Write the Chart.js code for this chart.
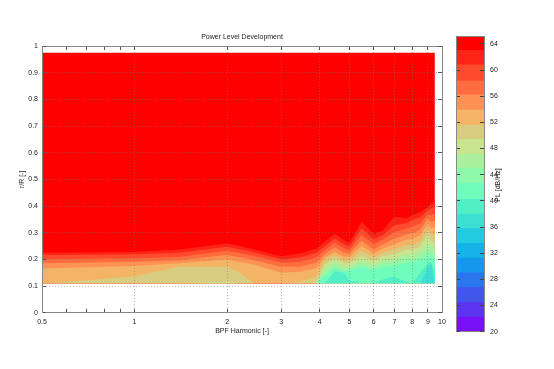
<!DOCTYPE html>
<html>
<head>
<meta charset="utf-8">
<script src="https://cdn.jsdelivr.net/npm/chart.js@4.4.0/dist/chart.umd.min.js"></script>
<style>
  html, body { margin: 0; padding: 0; background: #fff; }
  #wrap { position: relative; width: 554px; height: 369px; }
  canvas { position: absolute; top: 0; }
  #main { left: 0; }
  #bar { left: 440px; }
</style>
</head>
<body>
<div id="wrap">
  <canvas id="main" width="554" height="369"></canvas>
  <canvas id="bar" width="114" height="369"></canvas>
</div>
<script>
// BPF harmonic positions where the contour edges were read
const harmonics = [0.5, 0.7, 1, 1.4, 2, 2.2, 2.45, 3, 3.45, 3.9, 4.15, 4.48, 4.8, 5, 5.47, 6, 6.44, 7, 7.67, 8, 8.5, 9, 9.2, 9.48];

// upper edge (r/R) of each colour band, band 20 = hottest
const top20 = [0.975, 0.975, 0.975, 0.975, 0.975, 0.975, 0.975, 0.975, 0.975, 0.975, 0.975, 0.975, 0.975, 0.975, 0.975, 0.975, 0.975, 0.975, 0.975, 0.975, 0.975, 0.975, 0.975, 0.975];
const top19 = [0.225, 0.226, 0.228, 0.237, 0.260, 0.250, 0.237, 0.212, 0.222, 0.241, 0.266, 0.297, 0.272, 0.262, 0.341, 0.295, 0.310, 0.360, 0.353, 0.366, 0.378, 0.397, 0.410, 0.422];
const top18 = [0.216, 0.217, 0.219, 0.225, 0.247, 0.238, 0.226, 0.200, 0.207, 0.225, 0.250, 0.278, 0.257, 0.248, 0.316, 0.275, 0.292, 0.328, 0.335, 0.347, 0.358, 0.385, 0.390, 0.397];
const top17 = [0.200, 0.202, 0.204, 0.210, 0.232, 0.224, 0.213, 0.188, 0.191, 0.207, 0.235, 0.262, 0.241, 0.235, 0.291, 0.257, 0.275, 0.303, 0.315, 0.322, 0.335, 0.370, 0.365, 0.372];
const top16 = [0.185, 0.188, 0.191, 0.197, 0.216, 0.208, 0.197, 0.172, 0.172, 0.187, 0.220, 0.245, 0.225, 0.222, 0.270, 0.237, 0.258, 0.278, 0.294, 0.297, 0.311, 0.355, 0.340, 0.347];
const top15 = [0.166, 0.170, 0.175, 0.185, 0.200, 0.190, 0.180, 0.150, 0.154, 0.166, 0.207, 0.228, 0.210, 0.210, 0.250, 0.222, 0.242, 0.257, 0.274, 0.275, 0.289, 0.335, 0.314, 0.322];
const top14 = [0.110, 0.122, 0.137, 0.172, 0.172, 0.150, 0.110, 0.110, 0.116, 0.135, 0.195, 0.216, 0.197, 0.198, 0.231, 0.207, 0.226, 0.237, 0.255, 0.253, 0.268, 0.315, 0.290, 0.291];
const top13 = [0.110, 0.110, 0.110, 0.110, 0.116, 0.110, 0.110, 0.110, 0.110, 0.110, 0.182, 0.203, 0.185, 0.186, 0.213, 0.195, 0.212, 0.220, 0.237, 0.235, 0.249, 0.295, 0.270, 0.266];
const top12 = [0.110, 0.110, 0.110, 0.110, 0.110, 0.110, 0.110, 0.110, 0.110, 0.110, 0.166, 0.191, 0.172, 0.175, 0.197, 0.182, 0.198, 0.203, 0.220, 0.216, 0.231, 0.260, 0.250, 0.241];
const top11 = [0.110, 0.110, 0.110, 0.110, 0.110, 0.110, 0.110, 0.110, 0.110, 0.110, 0.150, 0.178, 0.162, 0.165, 0.182, 0.170, 0.185, 0.187, 0.203, 0.200, 0.213, 0.230, 0.232, 0.216];
const top10 = [0.110, 0.110, 0.110, 0.110, 0.110, 0.110, 0.110, 0.110, 0.110, 0.110, 0.135, 0.166, 0.154, 0.157, 0.170, 0.160, 0.172, 0.172, 0.188, 0.185, 0.196, 0.210, 0.214, 0.197];
const top9  = [0.110, 0.110, 0.110, 0.110, 0.110, 0.110, 0.110, 0.110, 0.110, 0.110, 0.110, 0.155, 0.150, 0.120, 0.110, 0.110, 0.125, 0.135, 0.115, 0.110, 0.150, 0.185, 0.190, 0.160];
const top8  = [0.110, 0.110, 0.110, 0.110, 0.110, 0.110, 0.110, 0.110, 0.110, 0.110, 0.110, 0.110, 0.110, 0.110, 0.110, 0.110, 0.110, 0.110, 0.110, 0.110, 0.110, 0.170, 0.185, 0.110];

// drawn first-on-top: lowest band first
const bandIds = [8, 9, 10, 11, 12, 13, 14, 15, 16, 17, 18, 19, 20];
const bandTops = [top8, top9, top10, top11, top12, top13, top14, top15, top16, top17, top18, top19, top20];
const rHub = 0.11;

// colour scale, bottom (20 dB) to top (65 dB)
const cbLevels = [20, 22.25, 24.5, 26.75, 29.0, 31.25, 33.5, 35.75, 38.0, 40.25, 42.7, 45.0, 47.1, 49.4, 51.6, 53.9, 56.2, 58.3, 60.8, 63.0, 65.1];
const bandColors = ['#7a10f8', '#5c34f0', '#4256ec', '#2a76ec', '#1696ec', '#14b2e8', '#24cadf', '#3cdfd2', '#52eec6', '#70fcbc',
                    '#8cf8aa', '#aaf09c', '#c8e48e', '#d8cc80', '#f4b466', '#ff9252', '#ff6c3e', '#ff4a2e', '#ff2416', '#ff0000'];
const cbTicks = [20, 24, 28, 32, 36, 40, 44, 48, 52, 56, 60, 64];

const xTicks = [0.5, 0.6, 0.7, 0.8, 0.9, 1, 2, 3, 4, 5, 6, 7, 8, 9, 10];
const xLabelVals = [0.5, 1, 2, 3, 4, 5, 6, 7, 8, 9, 10];

const gridCol = 'rgba(120,120,120,0.5)';
const tickCol = '#555';
const borderCol = '#888';

Chart.defaults.font.family = "'Liberation Sans', sans-serif";
Chart.defaults.font.size = 7;
Chart.defaults.color = '#222';

const datasets = bandTops.map((tops, i) => ({
  data: harmonics.map((h, j) => ({ x: h, y: tops[j] })),
  backgroundColor: bandColors[bandIds[i] - 1],
  borderColor: 'transparent',
  borderWidth: 0,
  pointRadius: 0,
  tension: 0,
  fill: { value: rHub },
}));

const setXTicks = (s) => { s.ticks = xTicks.map((v) => ({ value: v })); };
const fmtY = (v) => (v === 0 ? '0' : Math.abs(v - 1) < 1e-9 ? '1' : v.toFixed(1));

new Chart(document.getElementById('main'), {
  type: 'line',
  data: { datasets },
  options: {
    responsive: false,
    animation: false,
    devicePixelRatio: 1,
    layout: { padding: { left: 0, right: 112, top: 0, bottom: 0 } },
    plugins: { legend: { display: false }, tooltip: { enabled: false } },
    scales: {
      x: {
        type: 'logarithmic', position: 'bottom', min: 0.5, max: 10,
        afterBuildTicks: setXTicks,
        afterFit: (s) => { s.height = 56.3; },
        ticks: { autoSkip: false, maxRotation: 0, padding: 9, callback: (v) => (xLabelVals.includes(v) ? String(v) : '') },
        grid: {
          z: 1,
          color: (c) => (c.tick && c.tick.value > 0.95 && c.tick.value < 9.9 ? gridCol : 'transparent'),
          tickLength: -4, tickColor: tickCol,
        },
        border: { z: 1, color: borderCol, dash: [1, 2] },
        title: { display: true, text: 'BPF Harmonic [-]', padding: { top: 0, bottom: 33.8 } },
      },
      x2: {
        type: 'logarithmic', position: 'top', min: 0.5, max: 10,
        afterBuildTicks: setXTicks,
        afterFit: (s) => { s.height = 46; },
        ticks: { display: false },
        grid: { z: 1, drawOnChartArea: false, tickLength: -4, tickColor: tickCol },
        border: { z: 1, color: borderCol },
        title: { display: true, text: 'Power Level Development', padding: { top: 33, bottom: 0 } },
      },
      y: {
        min: 0, max: 1,
        afterFit: (s) => { s.width = 42; },
        ticks: { stepSize: 0.1, padding: 8, callback: fmtY },
        grid: {
          z: 1,
          color: (c) => (c.tick && c.tick.value > 0.05 && c.tick.value < 0.95 ? gridCol : 'transparent'),
          tickLength: -4, tickColor: tickCol,
        },
        border: { z: 1, color: borderCol, dash: [1, 2] },
        title: { display: true, text: 'r/R [-]', padding: { top: 17.5, bottom: 0 } },
      },
      y2: {
        position: 'right', min: 0, max: 1,
        afterFit: (s) => { s.width = 0; },
        ticks: { display: false, stepSize: 0.1 },
        grid: { z: 1, drawOnChartArea: false, tickLength: -4, tickColor: tickCol },
        border: { z: 1, color: borderCol },
      },
    },
  },
});

// colour bar
const setCbTicks = (s) => { s.ticks = cbTicks.map((v) => ({ value: v })); };

new Chart(document.getElementById('bar'), {
  type: 'bar',
  data: {
    labels: ['PL'],
    datasets: bandColors.map((c, i) => ({
      data: [[cbLevels[i], cbLevels[i + 1]]],
      backgroundColor: c,
      borderWidth: 0,
      barPercentage: 1,
      categoryPercentage: 1,
      grouped: false,
      xAxisID: 'x',
      yAxisID: 'y',
    })),
  },
  options: {
    responsive: false,
    animation: false,
    devicePixelRatio: 1,
    layout: { padding: 0 },
    plugins: { legend: { display: false }, tooltip: { enabled: false } },
    scales: {
      x: {
        position: 'bottom',
        ticks: { display: false }, grid: { display: false },
        border: { z: 1, color: borderCol },
        afterFit: (s) => { s.height = 37.3; },
      },
      x2: {
        position: 'top',
        ticks: { display: false }, grid: { display: false },
        border: { z: 1, color: borderCol },
        afterFit: (s) => { s.height = 36.7; },
      },
      y: {
        position: 'right', min: 20, max: 65.1,
        afterBuildTicks: setCbTicks,
        afterFit: (s) => { s.width = 70; },
        ticks: { padding: 10 },
        grid: { z: 1, drawOnChartArea: false, tickLength: -4, tickColor: '#444' },
        border: { z: 1, color: borderCol },
      },
      y2: {
        position: 'left', min: 20, max: 65.1,
        afterBuildTicks: setCbTicks,
        afterFit: (s) => { s.width = 16; },
        ticks: { display: false },
        grid: { z: 1, drawOnChartArea: false, tickLength: -4, tickColor: '#444' },
        border: { z: 1, color: borderCol },
      },
    },
  },
  plugins: [{
    id: 'cbTitle',
    afterDraw(chart) {
      const ctx = chart.ctx;
      ctx.save();
      ctx.translate(58.5, 185);
      ctx.rotate(-Math.PI / 2);
      ctx.font = "7px 'Liberation Sans', sans-serif";
      ctx.fillStyle = '#222';
      ctx.textAlign = 'center';
      ctx.textBaseline = 'middle';
      ctx.fillText('PL [dB/Hz]', 0, 0);
      ctx.restore();
    },
  }],
});
</script>
</body>
</html>
